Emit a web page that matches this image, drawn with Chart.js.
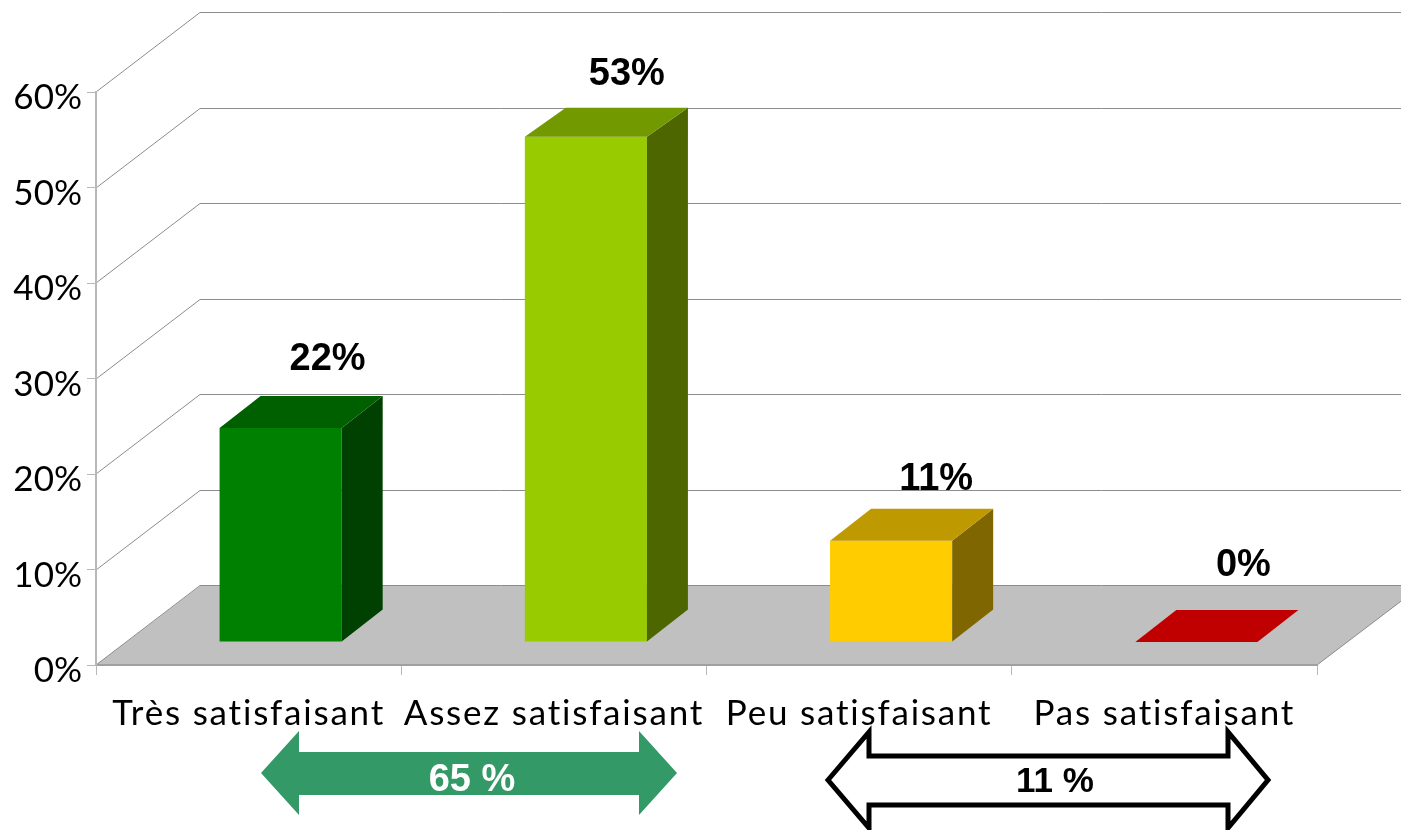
<!DOCTYPE html>
<html lang="fr">
<head>
<meta charset="utf-8">
<title>Satisfaction</title>
<script src="https://cdn.jsdelivr.net/npm/chart.js@4"></script>
<style>html,body{margin:0;padding:0;background:#fff;overflow:hidden}canvas{display:block}</style>
</head>
<body>
<canvas id="c" width="1401" height="830"></canvas>
<script>
const categories = ['Très satisfaisant', 'Assez satisfaisant', 'Peu satisfaisant', 'Pas satisfaisant'];
const values = [22.4, 52.9, 10.6, 0];
const valueLabels = ['22%', '53%', '11%', '0%'];
const frontColors = ['#008000', '#99cc00', '#ffcc00', '#ff0000'];
const topColors = ['#006000', '#739900', '#bf9900', '#c00000'];
const sideColors = ['#004000', '#4d6600', '#806600', '#800000'];
const yTicks = [0, 10, 20, 30, 40, 50, 60];

const DEPTH = {x: 104, y: 79};      // wall offset of the 3D box
const BAR_SHIFT = {x: 32, y: 23};   // bars stand inside the floor
const BAR_DEPTH = {x: 41, y: 32};   // depth of each bar
const TOP_RISE = [32, 29, 32, 32];  // the tallest bar's top is cut by the 50 % grid line
const LABEL_SHIFT = [{x: 47, y: 58}, {x: 41, y: 52}, {x: 45, y: 51}, {x: 47, y: 66}];
const LINE = '#8c8c8c';

function poly(ctx, pts, fill, stroke, lw) {
  ctx.beginPath();
  pts.forEach((p, i) => i ? ctx.lineTo(p[0], p[1]) : ctx.moveTo(p[0], p[1]));
  ctx.closePath();
  if (fill) { ctx.fillStyle = fill; ctx.fill(); }
  if (stroke) { ctx.strokeStyle = stroke; ctx.lineWidth = lw; ctx.lineJoin = 'miter'; ctx.stroke(); }
}

function wrapLabels(scale, ctx, spacing, dy) {
  if (scale._wrapped) return;
  const orig = scale.drawLabels;
  scale.drawLabels = function (area) {
    ctx.save();
    ctx.letterSpacing = spacing;
    ctx.translate(0, dy);
    orig.call(this, area);
    ctx.restore();
  };
  scale._wrapped = true;
}

const box3d = {
  id: 'box3d',
  beforeDraw(chart) {
    const {ctx, chartArea: a, scales: {y, x}} = chart;
    wrapLabels(x, ctx, '1.8px', -2);
    wrapLabels(y, ctx, '0px', 6);
    const y0 = y.getPixelForValue(0);
    poly(ctx, [[a.left, y0], [a.right, y0], [a.right + DEPTH.x, y0 - DEPTH.y], [a.left + DEPTH.x, y0 - DEPTH.y]], '#c0c0c0');
    ctx.save();
    ctx.strokeStyle = LINE;
    ctx.lineWidth = 1;
    yTicks.forEach(t => {
      const py = Math.round(y.getPixelForValue(t));
      ctx.beginPath();
      ctx.moveTo(a.left, py);
      ctx.lineTo(a.left + DEPTH.x, py - DEPTH.y - 0.5);
      ctx.lineTo(a.right + DEPTH.x, py - DEPTH.y - 0.5);
      ctx.stroke();
    });
    ctx.beginPath();
    ctx.moveTo(a.right, y0);
    ctx.lineTo(a.right + DEPTH.x, y0 - DEPTH.y);
    ctx.stroke();
    ctx.restore();
  },
  beforeDatasetDraw(chart) {
    chart.ctx.save();
    chart.ctx.translate(BAR_SHIFT.x, -BAR_SHIFT.y);
  },
  afterDatasetDraw(chart, args) {
    const ctx = chart.ctx;
    args.meta.data.forEach((bar, i) => {
      const {x, y, base, width} = bar.getProps(['x', 'y', 'base', 'width'], true);
      const l = x - width / 2, r = x + width / 2;
      const dx = BAR_DEPTH.x, dy = BAR_DEPTH.y, rise = TOP_RISE[i];
      poly(ctx, [[r, y], [r + dx, y - rise], [r + dx, base - dy], [r, base]], sideColors[i]);
      poly(ctx, [[l, y], [l + dx, y - rise], [r + dx, y - rise], [r, y]], topColors[i]);
    });
    ctx.restore();
  },
  afterDraw(chart) {
    const ctx = chart.ctx;
    const meta = chart.getDatasetMeta(0);
    ctx.save();
    ctx.textAlign = 'center';
    ctx.textBaseline = 'alphabetic';
    ctx.fillStyle = '#000';
    ctx.font = 'bold 38px "Liberation Sans", Arial, sans-serif';
    meta.data.forEach((bar, i) => {
      ctx.fillText(valueLabels[i], bar.x + BAR_SHIFT.x + LABEL_SHIFT[i].x, bar.y - BAR_SHIFT.y - LABEL_SHIFT[i].y);
    });
    // bracket arrows under the axis
    poly(ctx, [[261, 773], [299, 731], [299, 752], [639, 752], [639, 731], [677, 773], [639, 815], [639, 795], [299, 795], [299, 815]], '#339966');
    poly(ctx, [[828, 780], [869, 732], [869, 756], [1228, 756], [1228, 732], [1268, 780], [1228, 828], [1228, 805], [869, 805], [869, 828]], '#fff', '#000', 5);
    ctx.fillStyle = '#fff';
    ctx.fillText('65 %', 472, 791);
    ctx.fillStyle = '#000';
    ctx.font = 'bold 35px "Liberation Sans", Arial, sans-serif';
    ctx.fillText('11 %', 1055, 792);
    ctx.restore();
  }
};

new Chart(document.getElementById('c'), {
  type: 'bar',
  data: {
    labels: categories,
    datasets: [{
      data: values,
      backgroundColor: frontColors,
      borderWidth: 0,
      barPercentage: 0.4,
      categoryPercentage: 1,
      clip: false
    }]
  },
  options: {
    responsive: false,
    animation: false,
    devicePixelRatio: 1,
    layout: {padding: {left: 0, right: 84, top: 92, bottom: 0}},
    plugins: {legend: {display: false}, title: {display: false}, tooltip: {enabled: false}},
    scales: {
      x: {
        afterFit(s) { s.height = 165; s.paddingLeft = 0; s.paddingRight = 0; },
        border: {color: '#a0a0a0', width: 2},
        grid: {drawOnChartArea: false, drawTicks: true, tickLength: 10, color: '#b8b8b8', lineWidth: 1},
        ticks: {
          color: '#000', padding: 20, maxRotation: 0, autoSkip: false,
          font: {family: 'Lato, sans-serif', size: 35}
        }
      },
      y: {
        min: 0, max: 60,
        afterFit(s) { s.width = 96; s.paddingTop = 0; s.paddingBottom = 0; },
        afterBuildTicks(s) { s.ticks = yTicks.map(v => ({value: v})); },
        border: {color: '#b8b8b8', width: 2},
        grid: {drawOnChartArea: false, drawTicks: true, tickLength: 9, color: '#b8b8b8', lineWidth: 1},
        ticks: {
          color: '#000', padding: 5,
          font: {family: 'Lato, sans-serif', size: 35},
          callback: v => v + '%'
        }
      }
    }
  },
  plugins: [box3d]
});
</script>
</body>
</html>
